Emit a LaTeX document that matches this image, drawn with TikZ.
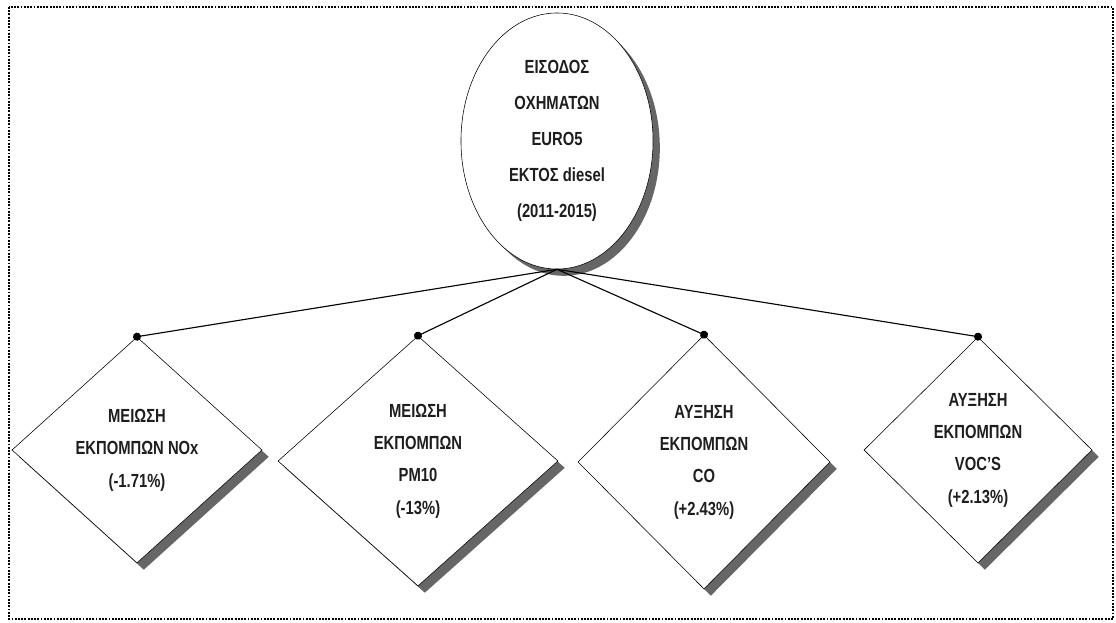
\documentclass[tikz,border=0pt]{standalone}
\usepackage{fontspec}
\setmainfont{Liberation Sans}[FakeStretch=0.78]
\usetikzlibrary{arrows.meta,shapes.geometric,shadows}
\definecolor{Ink}{HTML}{1E1E1E}

\begin{document}
\begin{tikzpicture}[x=0.025cm,y=-0.025cm,
      box/.style={draw=black,fill=white,align=center,inner sep=0pt,
        font=\bfseries\fontsize{13.5}{23}\selectfont,text=Ink,
        drop shadow={shadow xshift=1.7mm,shadow yshift=-1.7mm,fill=black,opacity=0.6}},
      effect/.style={box,diamond},
      link/.style={draw=black,line width=0.8pt,-{Circle[length=2mm]},shorten >=-1mm}]
      \useasboundingbox (0,0) rectangle (1116,623);
      \draw[densely dotted,line width=1.3pt] (9,7) rectangle (1113,619);
      \node[box,ellipse,minimum width=4.8cm,minimum height=6.4cm,
        font=\bfseries\fontsize{13.5}{25.5}\selectfont] (entry) at (557,141)
        {ΕΙΣΟΔΟΣ\\ΟΧΗΜΑΤΩΝ\\EURO5\\ΕΚΤΟΣ diesel\\(2011-2015)};
      \node[effect,minimum width=6.25cm,minimum height=5.65cm] (nox) at (137,450)
        {ΜΕΙΩΣΗ\\ΕΚΠΟΜΠΩΝ NOx\\(-1.71\%)};
      \node[effect,minimum width=7cm,minimum height=6.25cm] (pm) at (418,461)
        {ΜΕΙΩΣΗ\\ΕΚΠΟΜΠΩΝ\\PM10\\(-13\%)};
      \node[effect,minimum width=6.3cm,minimum height=6.35cm] (co) at (704,462)
        {ΑΥΞΗΣΗ\\ΕΚΠΟΜΠΩΝ\\CO\\(+2.43\%)};
      \node[effect,minimum width=5.7cm,minimum height=5.65cm] (voc) at (978,450)
        {ΑΥΞΗΣΗ\\ΕΚΠΟΜΠΩΝ\\VOC'S\\(+2.13\%)};
      \draw[link] (entry.south) -- (nox.north);
      \draw[link] (entry.south) -- (pm.north);
      \draw[link] (entry.south) -- (co.north);
      \draw[link] (entry.south) -- (voc.north);
    \end{tikzpicture}
\end{document}
